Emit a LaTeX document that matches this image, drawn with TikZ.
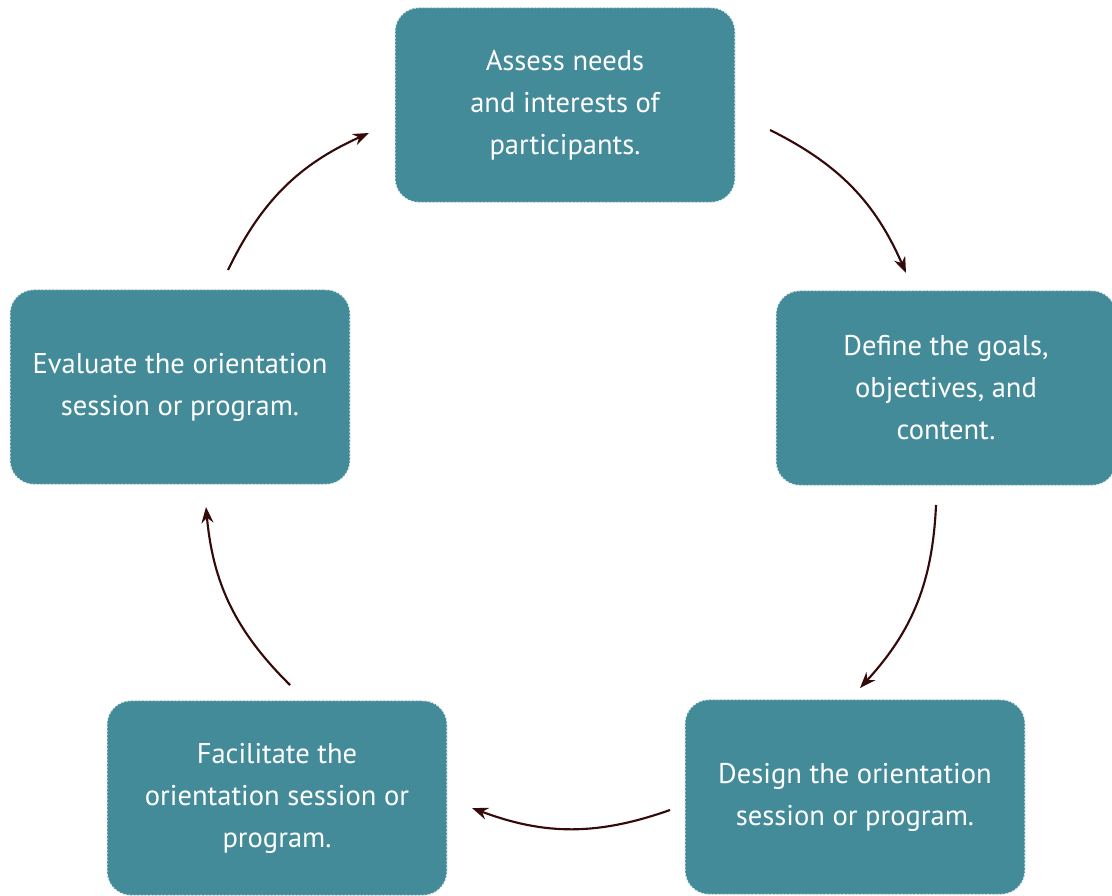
\documentclass[tikz,border=0pt]{standalone}
\usepackage{fontspec}
\setmainfont{PT Sans}
\usetikzlibrary{arrows.meta}
\definecolor{boxfill}{HTML}{448B9A}
\definecolor{arrowcol}{HTML}{350A0A}
\definecolor{dashcol}{HTML}{E4EEF0}
\begin{document}
\begin{tikzpicture}[x=0.75pt,y=0.75pt,
  stepbox/.style={draw=dashcol, fill=boxfill, line width=0.8pt, dash pattern=on 1.5pt off 1.2pt,
    rounded corners=18pt, minimum width=255pt, minimum height=146pt, align=center,
    text=white, font=\fontsize{21.4}{31.5}\selectfont, inner sep=0pt},
  cyc/.style={draw=arrowcol, line width=1.6pt, -{Stealth[length=12pt,width=9pt]}, bend left=20}]
\useasboundingbox (0,0) rectangle (1112,-895);
\node[stepbox] (assess) at (565,-105) {Assess needs\\and interests of\\participants.};
\node[stepbox] (define) at (946,-388) {Define the goals,\\objectives, and\\content.};
\node[stepbox] (design) at (855,-797) {Design the orientation\\session or program.};
\node[stepbox] (facil) at (277,-798) {Facilitate the\\orientation session or\\program.};
\node[stepbox] (eval) at (180,-387) {Evaluate the orientation\\session or program.};
\coordinate (a1s) at (770,-130); \coordinate (a1e) at (906,-273);
\coordinate (a2s) at (936,-505); \coordinate (a2e) at (860,-688);
\coordinate (a3s) at (670,-810); \coordinate (a3e) at (472,-808);
\coordinate (a4s) at (290,-685); \coordinate (a4e) at (206,-507);
\coordinate (a5s) at (228,-270); \coordinate (a5e) at (369,-133);
\draw[cyc] (a1s) to (a1e);
\draw[cyc] (a2s) to (a2e);
\draw[cyc] (a3s) to (a3e);
\draw[cyc] (a4s) to (a4e);
\draw[cyc] (a5s) to (a5e);
\end{tikzpicture}
\end{document}
